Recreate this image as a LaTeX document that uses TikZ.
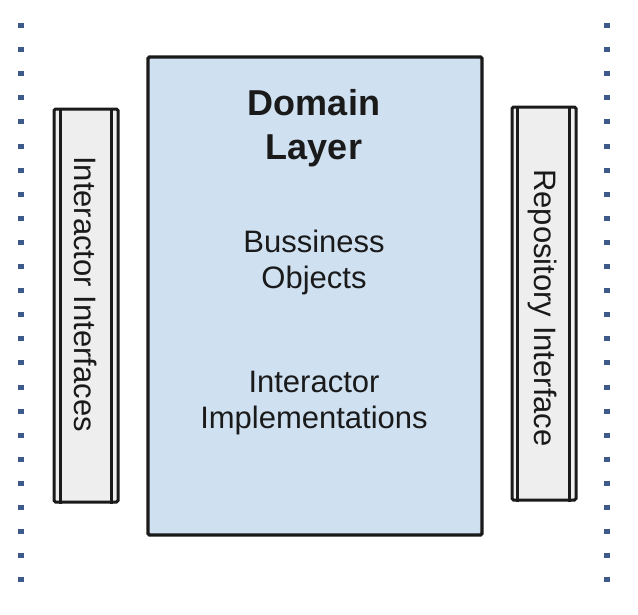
\documentclass[tikz,border=0pt]{standalone}
\usepackage{fontspec}
\setmainfont{Liberation Sans}
\definecolor{domfill}{HTML}{CFE0F1}
\definecolor{barfill}{HTML}{EEEEEE}
\definecolor{edge}{HTML}{1A1A1A}
\definecolor{dotblue}{HTML}{3D5A8A}
\tikzset{
  mainbox/.style={draw=edge, line width=3.2pt, fill=domfill, rounded corners=1.5pt, inner sep=0pt},
  sidebar/.style={draw=edge, line width=3pt, fill=barfill, rounded corners=1.5pt, inner sep=0pt},
  innerline/.style={draw=edge, line width=2.2pt},
  bodytext/.style={font=\fontsize{31}{36}\selectfont, text=edge, inner sep=0pt, align=center},
  titletext/.style={font=\fontsize{36}{44}\selectfont\bfseries, text=edge, inner sep=0pt, align=center},
  sidetext/.style={font=\fontsize{31}{33}\selectfont, text=edge, inner sep=0pt, rotate=-90},
  bluedot/.style={fill=dotblue, inner sep=0pt, minimum width=6.5pt, minimum height=5pt, draw=none}
}
\begin{document}
\begin{tikzpicture}[x=1pt,y=-1pt]
\useasboundingbox (0,0) rectangle (638,614);
% dotted boundaries
\foreach \k in {0,...,23}{
  \node[bluedot] (ldot\k) at (21,{25.5+24.1*\k}) {};
  \node[bluedot] (rdot\k) at (607,{25.5+24.1*\k}) {};
}
% main domain box
\node[mainbox, minimum width=334pt, minimum height=478pt] (domain) at (315,296) {};
\node[titletext, anchor=north] (title) at (314,89.5) {Domain\\Layer};
\node[bodytext, anchor=north] (objects) at (314,230) {Bussiness\\Objects};
\node[bodytext, anchor=north] (impl) at (314,371) {Interactor\\Implementations};
% left bar
\node[sidebar, minimum width=64pt, minimum height=393pt] (lbar) at (86,305.5) {};
\draw[innerline] ([xshift=8pt]lbar.north west) -- ([xshift=8pt]lbar.south west);
\draw[innerline] ([xshift=-8pt]lbar.north east) -- ([xshift=-8pt]lbar.south east);
\node[sidetext] (ltext) at (86,294) {Interactor Interfaces};
% right bar
\node[sidebar, minimum width=64pt, minimum height=393pt] (rbar) at (544,303.5) {};
\draw[innerline] ([xshift=7pt]rbar.north west) -- ([xshift=7pt]rbar.south west);
\draw[innerline] ([xshift=-8pt]rbar.north east) -- ([xshift=-8pt]rbar.south east);
\node[sidetext] (rtext) at (543,308) {Repository Interface};
\end{tikzpicture}
\end{document}
